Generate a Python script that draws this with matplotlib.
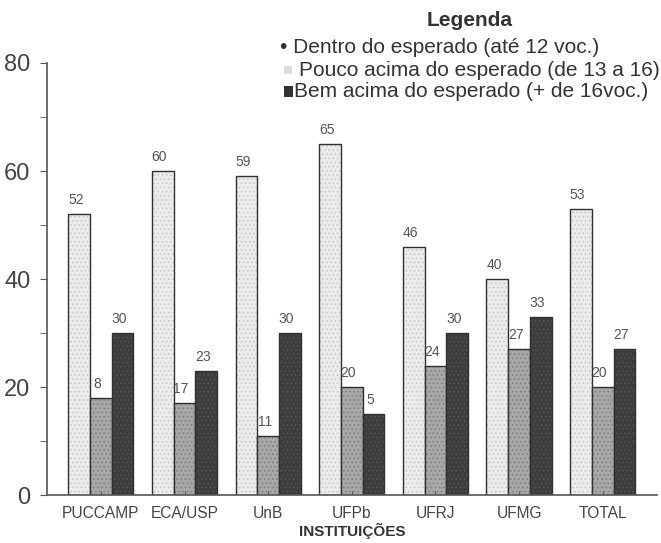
import matplotlib
matplotlib.use('Agg')
import matplotlib.pyplot as plt
import numpy as np

plt.rcParams['font.family'] = ['Liberation Sans', 'DejaVu Sans']
plt.rcParams['hatch.linewidth'] = 0.6

# data
instituicoes = ['PUCCAMP', 'ECA/USP', 'UnB', 'UFPb', 'UFRJ', 'UFMG', 'TOTAL']
dentro = [52, 60, 59, 65, 46, 40, 53]
pouco = [18, 17, 11, 20, 24, 27, 20]
bem = [30, 23, 30, 15, 30, 33, 27]
# value labels as printed on the original (some digits are lost in the print)
dentro_lbl = ['52', '60', '59', '65', '46', '40', '53']
pouco_lbl = ['8', '17', '11', '20', '24', '27', '20']
bem_lbl = ['30', '23', '30', '5', '30', '33', '27']

fig = plt.figure(figsize=(6.61, 5.43), dpi=100)
ax = fig.add_axes([0.071, 0.088, 0.923, 0.796])

x = np.arange(len(instituicoes))
w = 0.26
# face colour, stipple colour
series = [
    (dentro, dentro_lbl, '#ececec', '#c4c4c4'),
    (pouco, pouco_lbl, '#a8a8a8', '#7a7a7a'),
    (bem, bem_lbl, '#3d3d3d', '#555555'),
]
for i, (vals, lbls, col, dots) in enumerate(series):
    pos = x + (i - 1) * w
    ax.bar(pos, vals, w, color=col, edgecolor=dots, linewidth=0, hatch='....')
    ax.bar(pos, vals, w, fill=False, edgecolor='#303030', linewidth=1.0)
    for p, v, t in zip(pos, vals, lbls):
        ax.text(p - 0.04, v + 2.6, t, ha='center', va='center',
                fontsize=10, color='#555555')

ax.set_xlim(-0.645, 6.65)
ax.set_ylim(0, 80)
ax.spines['top'].set_visible(False)
ax.spines['right'].set_visible(False)
ax.spines['left'].set_color('#555555')
ax.spines['bottom'].set_color('#555555')
ax.spines['left'].set_linewidth(1.2)
ax.spines['bottom'].set_linewidth(1.2)

ax.set_yticks([0, 20, 40, 60, 80])
ax.set_yticks([10, 30, 50, 70], minor=True)
ax.tick_params(axis='y', which='both', direction='out', length=5,
               color='#555555', labelsize=17, labelcolor='#444444', pad=7)
ax.set_xticks(x)
ax.set_xticklabels(instituicoes)
ax.tick_params(axis='x', direction='in', length=3, color='#555555',
               labelsize=11.2, labelcolor='#444444', pad=8)
ax.set_xlabel('INSTITUIÇÕES', fontsize=11, fontweight='bold',
              color='#333333', labelpad=1)

# legend drawn as text lines, as in the original
fig.text(0.711, 0.962, 'Legenda', ha='center', va='center',
         fontsize=15, fontweight='bold', color='#333333')
legend_items = [
    '• Dentro do esperado (até 12 voc.)',
    'Pouco acima do esperado (de 13 a 16)',
    'Bem acima do esperado (+ de 16voc.)',
]
ys = [0.913, 0.871, 0.831]
fig.text(0.424, ys[0], legend_items[0], ha='left', va='center',
         fontsize=15, color='#333333')
fig.patches.append(plt.Rectangle((0.430, ys[1] - 0.008), 0.012, 0.016,
                                 transform=fig.transFigure, facecolor='#dddddd',
                                 edgecolor='none', figure=fig))
fig.text(0.452, ys[1], legend_items[1], ha='left', va='center',
         fontsize=15, color='#333333')
fig.patches.append(plt.Rectangle((0.430, ys[2] - 0.010), 0.014, 0.020,
                                 transform=fig.transFigure, facecolor='#333333',
                                 edgecolor='none', figure=fig))
fig.text(0.445, ys[2], legend_items[2], ha='left', va='center',
         fontsize=15, color='#333333')

fig.savefig('out.png', dpi=100, facecolor='white')
